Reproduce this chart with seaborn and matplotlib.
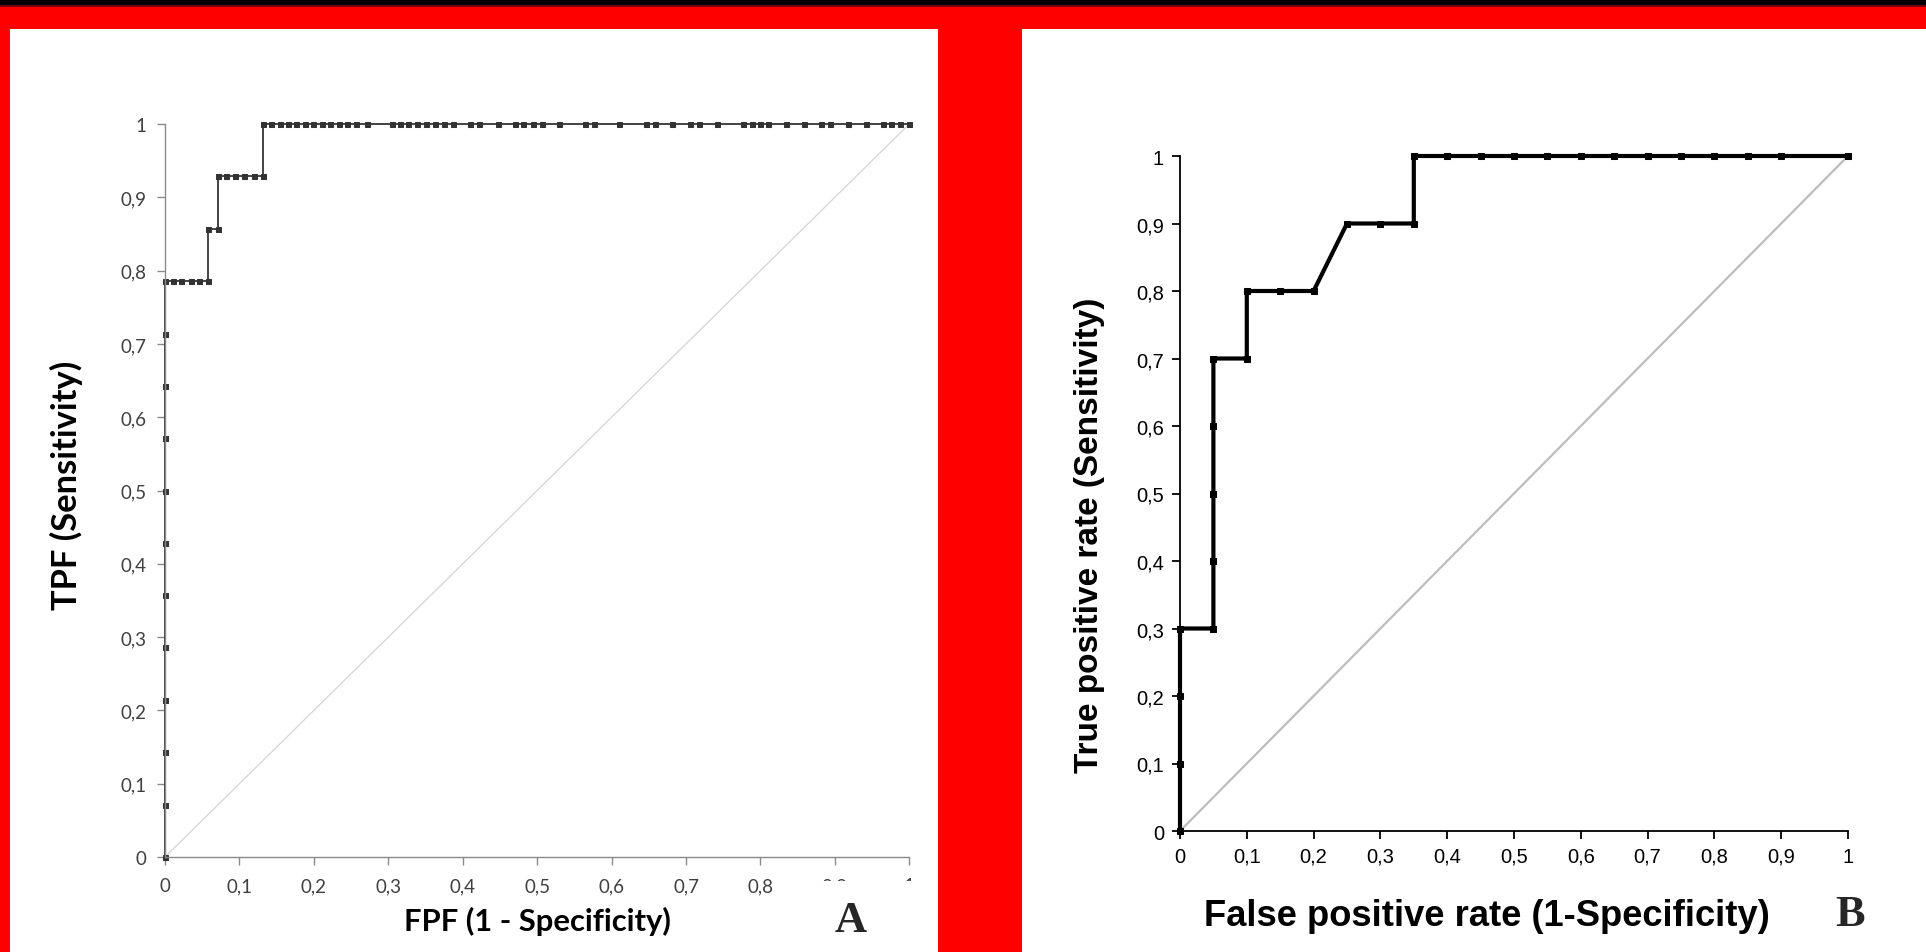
import matplotlib
matplotlib.use("Agg")
import matplotlib.pyplot as plt
import seaborn as sns
import numpy as np
from matplotlib.patches import Rectangle
from matplotlib.transforms import Bbox

# ---------------- data ----------------
# Panel A
a_fpr = [0, 0, 0, 0, 0, 0, 0, 0, 0, 0, 0, 0,
         0.011, 0.022, 0.035, 0.046, 0.058, 0.058, 0.071, 0.071,
         0.082, 0.094, 0.106, 0.119, 0.131, 0.131,
         0.142, 0.154, 0.165, 0.176, 0.188, 0.199, 0.211, 0.222, 0.234, 0.245,
         0.257, 0.271, 0.305, 0.316, 0.327, 0.338, 0.351, 0.363, 0.375, 0.387,
         0.410, 0.422, 0.447, 0.470, 0.481, 0.494, 0.506, 0.530, 0.564, 0.576,
         0.610, 0.646, 0.658, 0.681, 0.705, 0.718, 0.741, 0.776, 0.788, 0.799,
         0.810, 0.834, 0.859, 0.881, 0.894, 0.917, 0.942, 0.964, 0.976, 0.988, 1.0]
a_tpr = [0, 0.071, 0.143, 0.214, 0.286, 0.357, 0.429, 0.5, 0.571, 0.643, 0.714, 0.786,
         0.786, 0.786, 0.786, 0.786, 0.786, 0.857, 0.857, 0.929,
         0.929, 0.929, 0.929, 0.929, 0.929, 1.0] + [1.0] * 51

# Panel B
b_fpr = [0, 0, 0, 0, 0.05, 0.05, 0.05, 0.05, 0.05, 0.1, 0.1, 0.15, 0.2, 0.25, 0.3,
         0.35, 0.35, 0.4, 0.45, 0.5, 0.55, 0.6, 0.65, 0.7, 0.75, 0.8, 0.85, 0.9, 1.0]
b_tpr = [0, 0.1, 0.2, 0.3, 0.3, 0.4, 0.5, 0.6, 0.7, 0.7, 0.8, 0.8, 0.8, 0.9, 0.9,
         0.9, 1.0, 1.0, 1.0, 1.0, 1.0, 1.0, 1.0, 1.0, 1.0, 1.0, 1.0, 1.0, 1.0]

diag = [0, 1]
tick_vals = [0, 0.1, 0.2, 0.3, 0.4, 0.5, 0.6, 0.7, 0.8, 0.9, 1.0]
tick_labels = ["0", "0,1", "0,2", "0,3", "0,4", "0,5", "0,6", "0,7", "0,8", "0,9", "1"]

# ---------------- figure ----------------
sns.set_style("ticks")
W, H = 1926, 953
fig = plt.figure(figsize=(W / 100, H / 100), dpi=100)
fig.patch.set_facecolor("#ff0000")

def fx(px):
    return px / W

def fy(py):  # py measured from top
    return 1 - py / H

# black band on top and white panels
fig.add_artist(Rectangle((0, fy(6)), 1, 6 / H, transform=fig.transFigure,
                         facecolor="black", edgecolor="none", zorder=0))
fig.add_artist(Rectangle((0, fy(8)), 1, 2 / H, transform=fig.transFigure,
                         facecolor="#7a0000", edgecolor="none", zorder=0))
fig.add_artist(Rectangle((fx(10), 0), fx(938 - 10), fy(30), transform=fig.transFigure,
                         facecolor="white", edgecolor="none", zorder=0))
fig.add_artist(Rectangle((fx(1022), 0), fx(W - 1022), fy(30), transform=fig.transFigure,
                         facecolor="white", edgecolor="none", zorder=0))

# ---------------- Panel A ----------------
axA = fig.add_axes([fx(165), fy(858), fx(909.3 - 165), (858 - 125) / H])
axA.set_facecolor("none")
sns.lineplot(x=diag, y=diag, ax=axA, color="#d4d4d4", linewidth=0.9,
             estimator=None, sort=False)
sns.lineplot(x=a_fpr, y=a_tpr, ax=axA, color="#111111", linewidth=1.1,
             marker="s", markersize=3.6, markerfacecolor="#333333",
             markeredgecolor="#333333", estimator=None, sort=False, clip_on=False)
axA.set_xlim(0, 1)
axA.set_ylim(0, 1)
axA.set_xticks(tick_vals)
axA.set_yticks(tick_vals)
axA.set_xticklabels(tick_labels, fontfamily="Lato", fontsize=13.5, color="#404040")
axA.set_yticklabels(tick_labels, fontfamily="Lato", fontsize=13.5, color="#404040")
for s in ["top", "right"]:
    axA.spines[s].set_visible(False)
for s in ["left", "bottom"]:
    axA.spines[s].set_color("#8a8a8a")
    axA.spines[s].set_linewidth(1.0)
axA.tick_params(axis="both", direction="out", length=5.5, width=1.0, color="#8a8a8a")
axA.tick_params(axis="x", pad=9)
axA.tick_params(axis="y", pad=8)
axA.set_xlabel("FPF (1 - Specificity)", fontfamily="Lato", fontweight="bold",
               fontsize=20, color="black")
axA.set_ylabel("TPF (Sensitivity)", fontfamily="Lato", fontweight="bold",
               fontsize=20, color="black")
axA.xaxis.label.set_va("center")
axA.yaxis.label.set_va("center")
axA.xaxis.set_label_coords((537 - 165) / 744.3, (858 - 921) / 733)
axA.yaxis.set_label_coords((66 - 165) / 744.3, (858 - 485) / 733)
fig.text(fx(851), fy(921), "A", fontfamily="Liberation Serif", fontweight="bold",
         fontsize=32, ha="center", va="center")

# ---------------- Panel B ----------------
axB = fig.add_axes([fx(1180), fy(832), fx(1848 - 1180), (832 - 157) / H])
axB.set_facecolor("none")
sns.lineplot(x=diag, y=diag, ax=axB, color="#bdbdbd", linewidth=1.6,
             estimator=None, sort=False)
sns.lineplot(x=b_fpr, y=b_tpr, ax=axB, color="black", linewidth=3.0,
             marker="s", markersize=5, markerfacecolor="black",
             markeredgecolor="black", estimator=None, sort=False, clip_on=False)
axB.set_xlim(0, 1)
axB.set_ylim(0, 1)
axB.set_xticks(tick_vals)
axB.set_yticks(tick_vals)
axB.set_xticklabels(tick_labels, fontfamily="Liberation Sans", fontsize=14.5, color="black")
axB.set_yticklabels(tick_labels, fontfamily="Liberation Sans", fontsize=14.5, color="black")
for s in ["top", "right"]:
    axB.spines[s].set_visible(False)
for s in ["left", "bottom"]:
    axB.spines[s].set_color("black")
    axB.spines[s].set_linewidth(1.3)
axB.tick_params(axis="both", direction="out", length=5.5, width=1.3, color="black")
axB.tick_params(axis="x", pad=6)
axB.tick_params(axis="y", pad=6)
axB.set_xlabel("False positive rate (1-Specificity)", fontfamily="Liberation Sans",
               fontweight="bold", fontsize=21, color="black")
axB.set_ylabel("True positive rate (Sensitivity)", fontfamily="Liberation Sans",
               fontweight="bold", fontsize=21, color="black")
axB.xaxis.label.set_va("center")
axB.yaxis.label.set_va("center")
axB.xaxis.set_label_coords((1487 - 1180) / 668, (832 - 917) / 675)
axB.yaxis.set_label_coords((1089 - 1180) / 668, (832 - 535) / 675)
fig.text(fx(1850), fy(915), "B", fontfamily="Liberation Serif", fontweight="bold",
         fontsize=32, ha="center", va="center")

# ---------------- fit label sizes to measured extents ----------------
fig.canvas.draw()
r = fig.canvas.get_renderer()
def fit(t, target, vertical=False):
    bb = t.get_window_extent(r)
    cur = bb.height if vertical else bb.width
    t.set_fontsize(t.get_fontsize() * target / cur)

fit(axA.xaxis.label, 268)
fit(axA.yaxis.label, 250, vertical=True)
fit(axB.xaxis.label, 565)
fit(axB.yaxis.label, 475, vertical=True)

# the last two x tick labels of panel A are partly hidden in the reference
fig.canvas.draw()
for lab in axA.get_xticklabels()[-2:]:
    bb = lab.get_window_extent(r)
    lab.set_clip_box(Bbox.from_extents(bb.x0 - 2, bb.y1 - 4, bb.x1 + 2, bb.y1 + 2))
    lab.set_clip_on(True)

fig.savefig("out.png", dpi=100, facecolor=fig.get_facecolor())
